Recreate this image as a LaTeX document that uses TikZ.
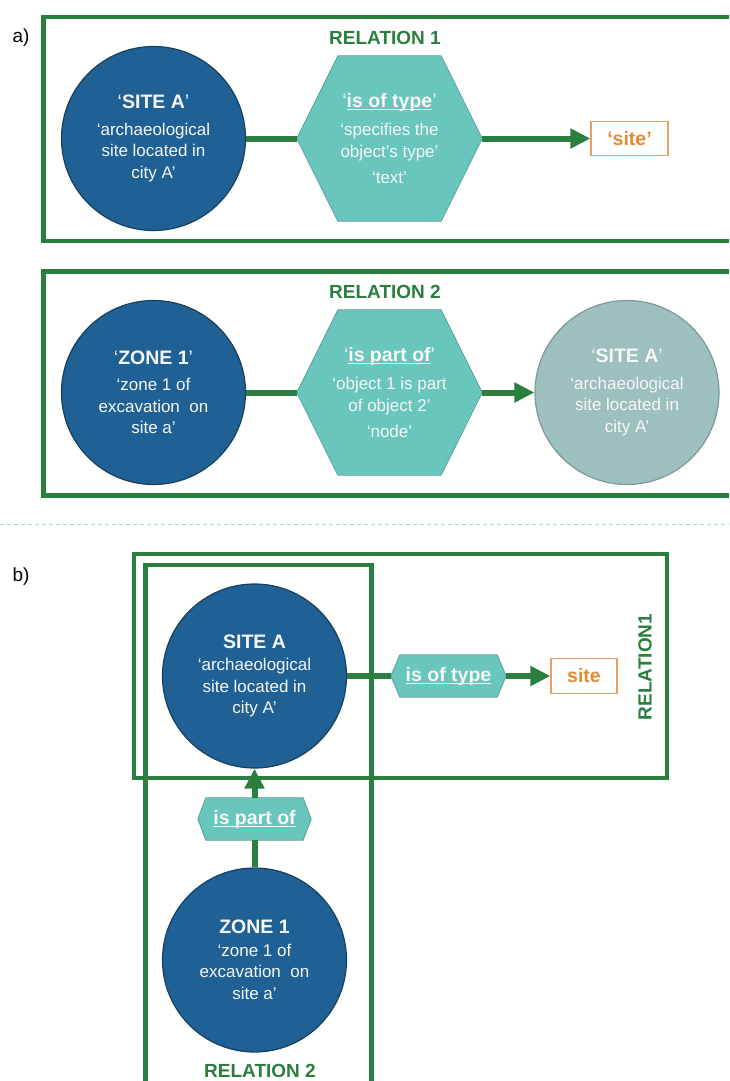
\documentclass[tikz,border=0pt]{standalone}
\usepackage{fontspec}
\setmainfont{Liberation Sans}
\usetikzlibrary{arrows.meta,backgrounds}
\definecolor{relgreen}{HTML}{2A7E3E}
\definecolor{navy}{HTML}{1F6194}
\definecolor{navyedge}{HTML}{173F5E}
\definecolor{hexfill}{HTML}{69C6BD}
\definecolor{hexedge}{HTML}{5E9F99}
\definecolor{greyc}{HTML}{9DBFBD}
\definecolor{greyedge}{HTML}{7D9997}
\definecolor{orangetxt}{HTML}{E38A33}
\definecolor{orangeedge}{HTML}{E8A064}
\definecolor{sepcol}{HTML}{A9D3D0}
\definecolor{wtxt}{HTML}{F7F7F7}
\newcommand\ulb[1]{\setbox0=\hbox{\bfseries #1}\rlap{\rule[-2.8pt]{\wd0}{1.3pt}}\box0}
\newcommand\hexpath[2]{\begin{pgfonlayer}{background}\path[hexshape] (#1.west) -- ([xshift=#2]#1.north west) -- ([xshift=-#2]#1.north east) -- (#1.east) -- ([xshift=-#2]#1.south east) -- ([xshift=#2]#1.south west) -- cycle;\end{pgfonlayer}}
\newcommand\hdfont{\fontsize{19.5}{22}\selectfont}
\begin{document}
\begin{tikzpicture}[x=1pt,y=-1pt,
  relbox/.style={draw=relgreen,line width=4.5pt},
  rellabel/.style={text=relgreen,font=\fontsize{19}{22}\selectfont\bfseries,inner sep=0pt},
  conn/.style={draw=relgreen,line width=6pt},
  arr/.style={conn,-{Triangle[length=20pt,width=19pt]}},
  bigcirc/.style={circle,minimum size=184pt,inner sep=0pt,text=wtxt,align=center,font=\fontsize{17}{21.5}\selectfont,line width=1.2pt},
  bluecirc/.style={bigcirc,fill=navy,draw=navyedge},
  greycirc/.style={bigcirc,fill=greyc,draw=greyedge},
  hexnode/.style={rectangle,inner sep=0pt,text=wtxt,align=center,font=\fontsize{17}{22}\selectfont},
  hexshape/.style={fill=hexfill,draw=hexedge,line width=0.8pt},
  valbox/.style={draw=orangeedge,line width=1.2pt,text=orangetxt,font=\fontsize{19.5}{22}\selectfont\bfseries,inner sep=0pt,fill=white},
  sep/.style={draw=sepcol,line width=1pt,dash pattern=on 4pt off 3pt},
  plabel/.style={font=\fontsize{19}{22}\selectfont,inner sep=0pt}
]
\useasboundingbox (0,0) rectangle (729,1081);
\clip (0,0) rectangle (729,1081);

% ---------- part a ----------
\node[plabel] (la) at (21,38) {a)};
\draw[relbox] (43.5,17) rectangle (745,241);
\node[rellabel] (rl1) at (385,37.5) {RELATION 1};
\node[bluecirc] (c1) at (153.5,138.5) {{\hdfont ‘\textbf{SITE A}’}\\[5pt] ‘archaeological\\ site located in\\ city A’};
\node[hexnode,minimum width=185pt,minimum height=165pt] (h1) at (389.5,138.5) {{\hdfont ‘\ulb{is of type}’}\\[6pt] ‘specifies the\\ object’s type’\\[4pt] ‘text’};
\hexpath{h1}{41pt}
\node[valbox,minimum width=77pt,minimum height=34pt] (s1) at (629.5,138.5) {‘site’};
\draw[conn] (c1) -- (h1);
\draw[arr] (h1) -- (s1);

\draw[relbox] (43.5,271.5) rectangle (745,495.5);
\node[rellabel] (rl2) at (385,292) {RELATION 2};
\node[bluecirc] (c2) at (153.5,392.5) {{\hdfont ‘\textbf{ZONE 1}’}\\[5pt] ‘zone 1 of\\ excavation~ on\\ site a’};
\node[hexnode,minimum width=185pt,minimum height=165pt] (h2) at (389.5,392.5) {{\hdfont ‘\ulb{is part of}’}\\[6pt] ‘object 1 is part\\ of object 2’\\[4pt] ‘node’};
\hexpath{h2}{41pt}
\node[greycirc] (c3) at (627,392.5) {{\hdfont ‘\textbf{SITE A}’}\\[5pt] ‘archaeological\\ site located in\\ city A’};
\draw[conn] (c2) -- (h2);
\draw[arr] (h2) -- (c3);

\draw[sep] (0,524.5) -- (729,524.5);

% ---------- part b ----------
\node[plabel] (lb) at (21,577) {b)};
\draw[relbox] (134,554) rectangle (667,778);
\draw[relbox] (145.5,565) rectangle (371.5,1100);
\node[rellabel,rotate=90] (rl3) at (645,667) {RELATION1};
\node[rellabel] (rl4) at (260,1071) {RELATION 2};

\node[bluecirc] (c4) at (254.5,676) {{\hdfont\bfseries SITE A}\\[1pt] ‘archaeological\\ site located in\\ city A’};
\node[bluecirc] (c5) at (254.5,960) {{\hdfont\bfseries ZONE 1}\\[1pt] ‘zone 1 of\\ excavation~ on\\ site a’};
\node[hexnode,minimum width=115pt,minimum height=42pt,font=\hdfont] (h3) at (448.5,676) {\ulb{is of type}};
\hexpath{h3}{9pt}
\node[hexnode,minimum width=113pt,minimum height=42pt,font=\hdfont] (h4) at (254.5,819) {\ulb{is part of}};
\hexpath{h4}{8pt}
\node[valbox,minimum width=66pt,minimum height=35pt] (s2) at (584,676) {site};
\draw[conn] (c4) -- (h3);
\draw[arr] (h3) -- (s2);
\draw[conn] (c5) -- (h4);
\draw[arr] (h4) -- (c4);
\end{tikzpicture}
\end{document}
